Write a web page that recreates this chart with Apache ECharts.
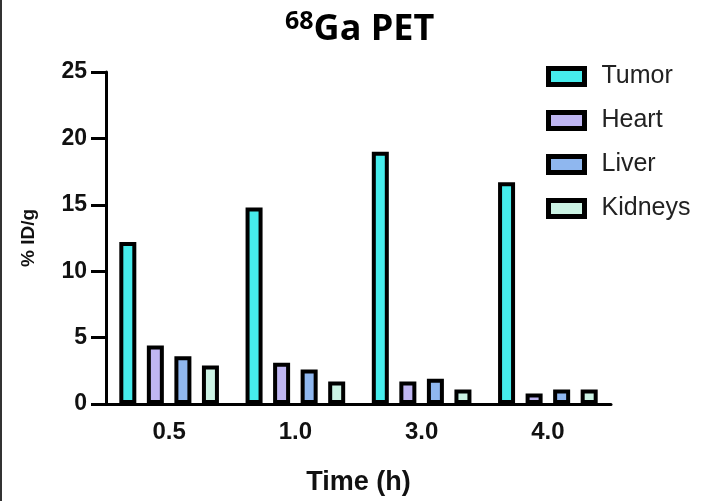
<!DOCTYPE html>
<html>
<head>
<meta charset="utf-8">
<script src="https://cdn.jsdelivr.net/npm/echarts@6/dist/echarts.min.js"></script>
<style>html,body{margin:0;padding:0;background:#fff;}#c{width:703px;height:501px;}</style>
</head>
<body>
<div id="c"></div>
<script>
const categories = ['0.5', '1.0', '3.0', '4.0'];
const seriesNames = ['Tumor', 'Heart', 'Liver', 'Kidneys'];
const tumor = [12.2, 14.8, 19.0, 16.7];
const heart = [4.4, 3.1, 1.7, 0.8];
const liver = [3.6, 2.6, 1.9, 1.1];
const kidneys = [2.9, 1.7, 1.1, 1.1];
const yMin = 0, yMax = 25, yStep = 5;
const colors = ['#46ECEC', '#BFB6F2', '#8FB7EF', '#CBF3E4'];

const chart = echarts.init(document.getElementById('c'));
const values = [tumor, heart, liver, kidneys];
const labelFont = {fontFamily: 'Liberation Sans', fontWeight: 'bold', fontSize: 23, color: '#111'};
chart.setOption({
  animation: false,
  backgroundColor: '#fff',
  title: {
    text: '{a|68}{b|Ga PET}',
    left: 280, top: 4,
    textStyle: {
      rich: {
        a: {fontFamily: 'Open Sans', fontWeight: 'bold', fontSize: 25, color: '#000', padding: [0, 0, 17, 0]},
        b: {fontFamily: 'Open Sans', fontWeight: 'bold', fontSize: 36, color: '#000'}
      }
    }
  },
  legend: {
    orient: 'vertical', left: 541, top: 59,
    itemWidth: 36, itemHeight: 16, itemGap: 19, itemTextGap: 20,
    icon: 'rect',
    textStyle: {fontFamily: 'Liberation Sans', fontSize: 25, color: '#222', padding: [0, 0, 0, 12]},
    itemStyle: {borderColor: '#000', borderWidth: 5},
    data: seriesNames
  },
  grid: {left: 106, right: 92, top: 72, bottom: 94},
  xAxis: {
    type: 'category', data: categories,
    axisLine: {lineStyle: {color: '#000', width: 3}},
    axisTick: {alignWithLabel: true, length: 13, lineStyle: {color: '#000', width: 3}},
    axisLabel: Object.assign({}, labelFont, {margin: 16, fontSize: 24}),
    name: 'Time (h)', nameLocation: 'middle', nameGap: 65,
    nameTextStyle: {fontFamily: 'Liberation Sans', fontWeight: 'bold', fontSize: 27, color: '#111'}
  },
  yAxis: {
    type: 'value', min: yMin, max: yMax, interval: yStep,
    axisLine: {show: true, lineStyle: {color: '#000', width: 3}},
    axisTick: {show: true, length: 15, lineStyle: {color: '#000', width: 3}},
    splitLine: {show: false},
    axisLabel: Object.assign({margin: 19}, labelFont),
    name: '% ID/g', nameLocation: 'middle', nameGap: 68, nameRotate: 90,
    nameTextStyle: {fontFamily: 'Liberation Sans', fontWeight: 'bold', fontSize: 19, color: '#111'}
  },
  series: seriesNames.map((n, i) => ({
    name: n, type: 'bar', data: values[i],
    barWidth: 17, barGap: '62%',
    itemStyle: {color: colors[i], borderColor: '#000', borderWidth: 4}
  })),
  graphic: [{
    type: 'line', shape: {x1: 1, y1: 0, x2: 1, y2: 501},
    style: {stroke: '#333', lineWidth: 2}
  }]
});
</script>
</body>
</html>
